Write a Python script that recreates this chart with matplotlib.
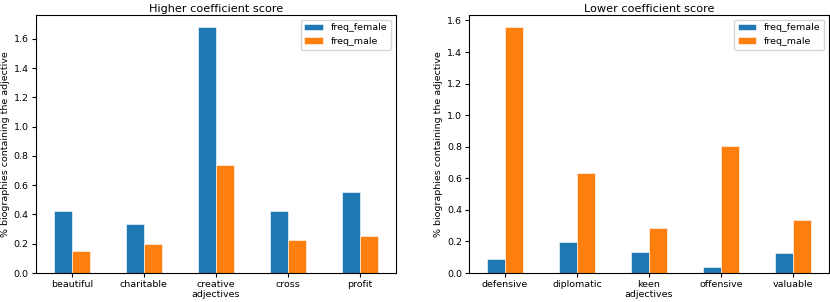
import matplotlib.pyplot as plt
import numpy as np

high_adj = ["beautiful", "charitable", "creative", "cross", "profit"]
high_female = [0.424, 0.333, 1.68, 0.424, 0.556]
high_male = [0.152, 0.196, 0.738, 0.226, 0.255]

low_adj = ["defensive", "diplomatic", "keen", "offensive", "valuable"]
low_female = [0.088, 0.196, 0.133, 0.035, 0.126]
low_male = [1.558, 0.634, 0.288, 0.806, 0.335]

plt.rcParams["font.size"] = 6.8

fig = plt.figure(figsize=(8.3, 3.02), dpi=100)
ax1 = fig.add_axes([0.043, 0.096, 0.434, 0.855])
ax2 = fig.add_axes([0.565, 0.096, 0.434, 0.855])


def draw(ax, adj, female, male, title):
    x = np.arange(len(adj))
    w = 0.25
    ax.bar(x - w / 2, female, w, color="#1f77b4", edgecolor="white", linewidth=0.4, label="freq_female")
    ax.bar(x + w / 2, male, w, color="#ff7f0e", edgecolor="white", linewidth=0.4, label="freq_male")
    ax.set_xticks(x)
    ax.set_xticklabels(adj)
    ax.set_xlim(-0.5, len(adj) - 0.5)
    ax.set_ylim(0, 1.05 * max(max(female), max(male)))
    ax.tick_params(length=3, pad=2)
    ax.set_xlabel("adjectives", labelpad=1)
    ax.set_ylabel("% biographies containing the adjective", labelpad=3)
    ax.set_title(title, pad=2, fontsize=8.1)
    ax.legend(loc="upper right")


draw(ax1, high_adj, high_female, high_male, "Higher coefficient score")
draw(ax2, low_adj, low_female, low_male, "Lower coefficient score")

fig.savefig("out.png", dpi=100)
